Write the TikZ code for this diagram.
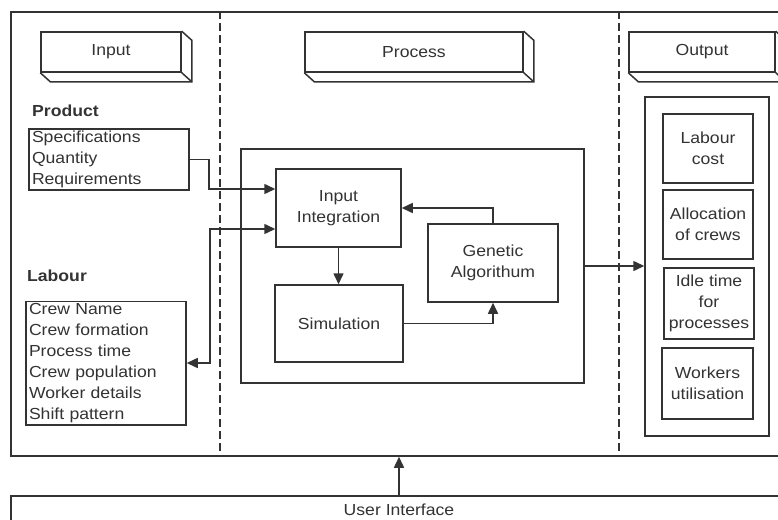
\documentclass[tikz,border=0pt]{standalone}
\usepackage{fontspec}
\setmainfont[FakeStretch=1.1]{Liberation Sans}
\usetikzlibrary{arrows.meta,calc}
\definecolor{ink}{gray}{0.2}
\tikzset{
  box/.style={rectangle,draw=ink,line width=1.5pt,fill=white,inner sep=2pt,align=center},
  hdr/.style={box,minimum height=40},
  list/.style={box,align=left,inner xsep=3pt},
  arr/.style={-{Triangle[length=11pt,width=10pt]},line width=1.5pt,draw=ink},
  darr/.style={{Triangle[length=11pt,width=10pt]}-{Triangle[length=11pt,width=10pt]},line width=1.5pt,draw=ink},
}
\begin{document}
\begin{tikzpicture}[x=1pt,y=-1pt,font=\fontsize{16}{21}\selectfont,text=ink]
\useasboundingbox (0,0) rectangle (778,519);
% frames
\node[box,minimum width=774,minimum height=444] (frame) at (398,234) {};
\draw[ink,line width=1.5pt,dash pattern=on 8pt off 4pt] (frame.north -| 220,0) -- (frame.south -| 220,0);
\draw[ink,line width=1.5pt,dash pattern=on 8pt off 4pt] (frame.north -| 619,0) -- (frame.south -| 619,0);
\node[box,minimum width=776,minimum height=28] (ui) at (399,510) {User Interface};
\draw[arr] (ui.north) -- (ui.north |- frame.south);
% column headers
\node[hdr,minimum width=140] (hin) at (111,52) {Input};
\node[hdr,minimum width=218] (hproc) at (414,52) {Process};
\node[hdr,minimum width=146] (hout) at (702,52) {Output};
\foreach \n in {hin,hproc,hout} {
  \draw[ink,line width=1.5pt] (\n.south west) -- ++(10,9) -| ($(\n.north east)+(10,9)$) -- (\n.north east);
  \draw[ink,line width=1.5pt] (\n.south east) -- ++(10,9);
}
% input side
\node[anchor=west,inner sep=0pt,font=\fontsize{16}{21}\selectfont\bfseries] (prodlbl) at (32,110.5) {Product};
\node[list,text width=154] (prod) at (109,159.5) {Specifications\\Quantity\\Requirements};
\node[anchor=west,inner sep=0pt,font=\fontsize{16}{21}\selectfont\bfseries] (lablbl) at (27,275.5) {Labour};
\node[list,text width=154] (lab) at (106,363) {Crew Name\\Crew formation\\Process time\\Crew population\\Worker details\\Shift pattern};
% process
\node[box,minimum width=343,minimum height=234] (proc) at (412.5,266) {};
\node[box,minimum width=125,minimum height=78] (II) at (338.5,208) {Input\\Integration};
\node[box,minimum width=128,minimum height=77] (sim) at (339,323.5) {Simulation};
\node[box,minimum width=130,minimum height=78] (GA) at (493,263) {Genetic\\Algorithum};
% output
\node[box,minimum width=124,minimum height=339] (outbox) at (707,266.5) {};
\node[box,minimum width=90,minimum height=69] (lc) at (708,148.5) {Labour\\cost};
\node[box,minimum width=90,minimum height=69] (alloc) at (708,224.5) {Allocation\\of crews};
\node[box,minimum width=90,minimum height=71] (idle) at (709,303.5) {Idle time\\for\\processes};
\node[box,minimum width=91,minimum height=71] (work) at (707.5,383.5) {Workers\\utilisation};
% connectors
\draw[arr] (prod.east) -- ++(19,0) |- ([yshift=19pt]II.west);
\draw[darr] (lab.east) -- ++(23,0) |- ([yshift=-21pt]II.west);
\draw[arr] (II.south) -- (II.south |- sim.north);
\draw[arr] (sim.east) -| (GA.south);
\draw[arr] (GA.north) |- (II.east);
\draw[arr] (proc.east) -- (outbox.west |- proc.east);
\end{tikzpicture}
\end{document}
